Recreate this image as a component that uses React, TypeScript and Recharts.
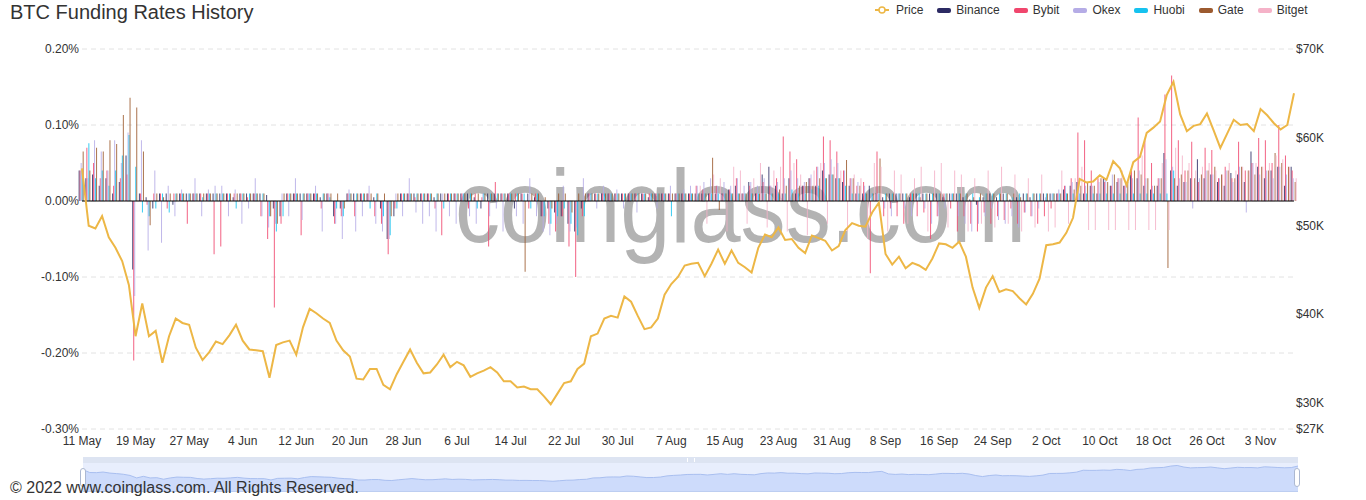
import React from 'react';
import { ComposedChart, AreaChart, Area, Bar, Line, XAxis, YAxis, CartesianGrid, ReferenceLine } from 'recharts';

// Daily BTC price (thousand USD), 11 May 2021 - 8 Nov 2021
const price: number[] = [
  // May 11-31
  56.5, 50.0, 49.7, 51.1, 48.7, 47.5, 46.0, 43.3, 37.5, 41.2, 37.5, 38.1, 34.5, 37.5, 39.5, 39.0, 38.8, 36.2, 34.8, 35.7, 36.9,
  // Jun
  36.6, 37.6, 38.8, 37.0, 36.0, 35.9, 35.8, 32.8, 36.5, 36.8, 37.0, 35.4, 38.5, 40.6, 40.1, 39.5, 39.0, 37.0, 35.9, 35.2,
  32.7, 32.6, 33.8, 33.8, 32.0, 31.5, 33.2, 34.6, 36.0, 34.5,
  // Jul
  33.3, 33.4, 34.3, 35.4, 34.0, 34.6, 34.2, 32.9, 33.3, 33.6, 34.0, 33.4, 32.4, 32.4, 31.7, 31.8, 31.5, 31.5, 30.7, 29.8,
  31.0, 32.2, 32.4, 33.8, 34.4, 37.5, 37.8, 39.5, 39.8, 39.6, 42.0,
  // Aug
  41.4, 39.8, 38.3, 38.5, 39.5, 42.2, 43.4, 44.2, 45.5, 45.7, 45.8, 44.3, 45.7, 47.3, 45.7, 47.2, 45.8, 45.3, 44.7, 47.5,
  49.0, 48.7, 49.8, 48.4, 48.5, 47.5, 46.9, 48.9, 48.6, 48.3, 47.2,
  // Sep
  47.7, 49.5, 50.3, 50.0, 49.9, 51.5, 52.6, 46.8, 45.6, 46.5, 45.2, 45.8, 45.5, 45.0, 46.3, 48.0, 47.9, 47.5, 48.2, 46.5,
  43.0, 40.7, 43.0, 44.3, 42.5, 42.8, 42.6, 41.8, 41.1, 42.3,
  // Oct
  44.0, 47.8, 47.9, 48.1, 49.2, 50.9, 55.3, 54.9, 55.0, 55.7, 55.2, 57.3, 56.5, 54.6, 57.2, 57.8, 60.5, 61.1, 61.8, 64.8,
  66.3, 62.6, 60.7, 61.3, 61.5, 62.7, 60.8, 58.8, 60.4, 62.0, 61.4,
  // Nov 1-8
  61.5, 60.7, 63.2, 62.5, 61.6, 60.9, 61.4, 65.0,
];

// Funding rates (%), one value per day
const binance: number[] = [
  0.04, 0.03, 0.035, 0.02, 0.03, 0.01, 0.025, 0.06, -0.09, 0.01, 0.005, -0.01, 0.01, 0.01, -0.005, 0.01, 0.01, 0.01, 0.01, 0.01, 0.01,
  0.01, 0.01, 0.005, 0.01, 0.01, 0.01, 0.01, 0.008, -0.01, -0.02, 0.01, 0.01, 0.01, 0.01, 0.01, 0.005, 0.01, -0.02, -0.01, 0.01,
  0.01, 0.01, 0.01, 0.005, -0.01, -0.05, -0.02, 0.01, 0.01, 0.01,
  0.01, 0.01, 0.005, 0.01, 0.01, 0.01, 0.01, 0.01, 0.005, -0.01, 0.01, 0.01, 0.01, 0.01, -0.01, 0.01, 0.01, 0.005, -0.02, -0.01,
  -0.015, -0.02, -0.03, -0.04, -0.01, 0.01, 0.01, 0.01, 0.01, 0.01, 0.01,
  0.01, 0.01, 0.01, 0.005, 0.01, 0.01, 0.01, 0.01, 0.01, 0.01, 0.01, 0.01, 0.01, 0.01, 0.01, 0.015, 0.02, 0.01, 0.025, 0.01,
  0.035, 0.045, 0.02, 0.01, 0.03, 0.01, 0.02, 0.03, 0.02, 0.04, 0.035,
  0.03, 0.025, 0.02, 0.01, 0.01, 0.02, 0.01, 0.005, 0.01, 0.01, 0.01, 0.005, 0.01, 0.01, 0.01, 0.01, 0.005, 0.01, 0.01, 0.005,
  0.002, -0.005, 0.005, 0.01, 0.005, 0.01, 0.002, 0.005, 0.01, 0.005,
  0.01, 0.01, 0.01, 0.01, 0.015, 0.02, 0.025, 0.01, 0.02, 0.01, 0.03, 0.02, 0.025, 0.02, 0.035, 0.03, 0.02, 0.015, 0.02, 0.063,
  0.04, 0.02, 0.025, 0.03, 0.055, 0.03, 0.035, 0.025, 0.02, 0.037, 0.035,
  0.025, 0.065, 0.045, 0.03, 0.04, 0.045, 0.02, 0.045,
];

const bybit: number[] = [
  0.04, 0.07, 0.05, 0.03, 0.04, 0.02, 0.03, 0.035, -0.21, 0.01, -0.005, 0.01, 0.01, -0.01, 0.01, 0.01, -0.03, 0.01, 0.01, 0.01, -0.07,
  -0.06, 0.01, 0.01, 0.01, 0.005, 0.01, -0.02, -0.05, -0.14, -0.03, 0.01, 0.01, -0.045, 0.01, 0.01, -0.01, 0.01, -0.03, -0.02, 0.01,
  -0.02, 0.01, 0.01, -0.02, -0.03, -0.07, -0.01, 0.01, 0.01, 0.005,
  0.01, 0.01, -0.01, -0.045, 0.01, 0.01, 0.01, -0.01, 0.01, 0.005, -0.06, 0.025, 0.01, 0.01, 0.01, 0.01, -0.01, 0.01, -0.02, -0.03,
  -0.04, -0.02, -0.06, -0.10, -0.02, 0.01, 0.01, 0.01, 0.01, 0.01, 0.01,
  0.01, 0.01, 0.01, 0.01, 0.01, 0.01, 0.01, 0.01, 0.01, 0.01, 0.02, 0.015, 0.01, 0.02, 0.01, 0.015, 0.03, 0.01, 0.02, 0.01,
  0.025, 0.02, 0.03, 0.085, 0.065, 0.055, 0.02, 0.03, 0.045, 0.085, 0.08,
  0.065, 0.04, 0.03, 0.02, 0.025, -0.095, 0.065, -0.02, -0.01, -0.02, -0.03, 0.01, -0.02, -0.015, -0.05, -0.02, 0.01, -0.01, -0.04, -0.02,
  -0.03, -0.04, -0.015, -0.03, -0.02, -0.025, -0.01, -0.03, -0.015, -0.02,
  -0.03, -0.02, -0.01, 0.01, 0.02, 0.03, 0.09, 0.08, 0.04, 0.03, 0.025, 0.02, 0.03, 0.02, 0.04, 0.11, 0.08, 0.05, 0.03, 0.14,
  0.165, 0.08, 0.04, 0.078, 0.025, 0.07, 0.067, 0.03, 0.045, 0.03, 0.078,
  0.04, 0.05, 0.083, 0.08, 0.05, 0.10, 0.06, 0.04,
];

const okex: number[] = [
  0.05, 0.03, 0.08, 0.065, 0.04, 0.08, 0.05, 0.09, -0.125, 0.08, -0.065, 0.04, -0.055, 0.02, -0.02, 0.015, 0.01, 0.03, -0.02, 0.015, 0.02,
  0.02, -0.02, 0.015, -0.03, -0.01, 0.03, -0.02, -0.035, -0.03, 0.01, -0.02, 0.03, -0.025, 0.01, 0.02, -0.04, 0.01, -0.03, -0.05, 0.015,
  -0.04, -0.02, 0.02, -0.03, -0.04, -0.05, 0.01, -0.02, 0.03, -0.015,
  -0.03, -0.02, -0.04, 0.01, -0.02, -0.03, 0.01, -0.02, -0.03, 0.01, -0.02, -0.01, -0.04, 0.01, -0.02, -0.03, 0.03, -0.02, -0.04, -0.045,
  -0.03, 0.02, -0.04, -0.035, 0.03, 0.01, -0.01, 0.02, 0.01, 0.015, -0.01,
  0.01, -0.015, 0.01, 0.01, -0.01, 0.01, 0.02, 0.01, 0.015, 0.02, 0.02, 0.025, 0.03, 0.02, 0.025, 0.02, 0.03, 0.02, 0.025, 0.02,
  0.03, 0.02, 0.025, 0.03, 0.04, 0.03, 0.025, 0.035, 0.045, 0.05, 0.055,
  0.05, 0.04, 0.03, 0.025, 0.02, 0.01, 0.01, -0.01, -0.02, 0.01, -0.01, -0.02, 0.005, -0.01, -0.03, -0.02, -0.01, 0.01, -0.02, -0.03,
  -0.04, -0.03, -0.02, -0.01, -0.025, -0.03, -0.02, -0.035, -0.015, -0.02,
  -0.01, 0.005, 0.01, 0.015, 0.02, 0.025, 0.03, 0.02, 0.02, 0.025, 0.03, 0.035, 0.03, 0.025, 0.03, 0.04, 0.03, 0.02, 0.03, 0.055,
  0.045, 0.03, 0.025, -0.01, 0.03, 0.04, 0.035, 0.03, 0.04, 0.025, 0.045,
  -0.015, 0.05, 0.035, 0.04, 0.03, 0.045, 0.035, 0.03,
];

// Huobi stops reporting after 19 Oct
const huobi: number[] = [
  0.04, 0.076, 0.03, 0.04, 0.02, 0.04, 0.06, 0.087, 0.045, -0.015, -0.02, -0.01, 0.01, -0.015, 0.01, 0.01, 0.01, 0.01, 0.005, 0.01, 0.01,
  0.01, 0.01, -0.01, 0.01, 0.01, 0.01, 0.01, -0.02, -0.04, -0.02, 0.01, 0.01, 0.01, 0.01, 0.01, 0.01, 0.005, -0.01, -0.02, 0.01,
  0.01, 0.01, -0.01, 0.01, -0.02, -0.045, -0.01, 0.01, 0.01, 0.01,
  0.01, 0.01, 0.01, -0.01, 0.01, 0.01, 0.01, 0.01, -0.01, 0.01, 0.01, 0.01, 0.01, 0.01, 0.01, 0.01, -0.01, 0.01, -0.02, -0.03,
  -0.02, -0.01, -0.03, -0.045, -0.02, 0.01, 0.01, 0.01, 0.01, 0.01, 0.01,
  0.01, 0.01, 0.01, 0.01, 0.01, 0.01, -0.02, 0.01, 0.01, 0.01, 0.01, 0.01, 0.01, 0.01, 0.01, 0.01, 0.01, 0.01, 0.01, 0.01,
  0.01, 0.01, 0.01, 0.01, 0.015, 0.01, 0.01, 0.015, 0.02, 0.03, 0.035,
  0.03, 0.02, 0.01, 0.01, 0.01, 0.01, 0.01, 0.01, 0.01, 0.01, 0.01, 0.01, 0.01, 0.01, 0.01, 0.01, 0.01, 0.01, 0.01, 0.01,
  0.01, 0.005, 0.01, 0.01, 0.01, 0.01, 0.005, 0.01, 0.01, 0.01,
  0.01, 0.01, 0.01, 0.01, 0.01, 0.01, 0.01, 0.01, 0.01, 0.01, 0.01, 0.01, 0.01, 0.01, 0.01, 0.01, 0.01, 0.01, 0.01, 0.01,
  0.04,
];

const gate: number[] = [
  0.065, 0.04, 0.07, 0.065, 0.08, 0.075, 0.113, 0.136, 0.123, 0.065, -0.032, 0.01, 0.005, 0.01, 0.01, 0.01, 0.01, 0.01, 0.01, 0.01, 0.01,
  0.01, 0.01, 0.01, 0.01, 0.01, 0.01, 0.01, -0.02, -0.03, 0.01, 0.01, 0.01, 0.01, 0.01, 0.01, 0.01, 0.01, 0.01, -0.01, 0.01,
  0.01, 0.01, 0.01, 0.01, 0.01, -0.02, 0.01, 0.01, 0.01, 0.01,
  0.01, 0.01, 0.01, 0.01, 0.01, 0.01, 0.01, 0.01, 0.01, 0.01, 0.01, 0.01, 0.01, 0.01, 0.01, -0.093, 0.01, 0.01, 0.005, -0.01,
  0.01, 0.01, -0.015, 0.01, 0.01, 0.01, 0.01, 0.01, 0.01, 0.01, 0.01,
  0.01, 0.01, 0.01, 0.01, 0.01, 0.01, 0.01, 0.01, 0.01, 0.01, 0.01, 0.01, 0.057, -0.012, 0.01, 0.01, 0.01, 0.01, 0.01, 0.01,
  0.01, 0.01, 0.015, 0.02, 0.01, 0.02, 0.025, 0.02, 0.03, 0.03, 0.035,
  0.03, 0.054, 0.03, 0.02, 0.01, 0.01, 0.056, 0.01, 0.01, 0.01, 0.01, 0.01, 0.005, 0.01, 0.01, 0.01, 0.01, 0.01, 0.01, 0.01,
  0.005, 0.01, 0.01, 0.01, 0.01, 0.01, 0.01, 0.005, 0.01, 0.01,
  0.01, 0.01, 0.01, 0.01, 0.01, 0.015, 0.02, 0.025, 0.02, 0.03, 0.025, 0.035, 0.03, 0.025, 0.04, 0.035, 0.03, 0.02, 0.03, -0.088,
  0.03, 0.035, 0.04, 0.03, 0.035, 0.04, 0.045, 0.035, 0.04, 0.03, 0.045,
  0.04, 0.035, 0.045, 0.04, 0.063, 0.05, 0.045, 0.025,
];

// Bitget is listed from 12 Aug onwards
const BITGET_FROM = 92;
const bitget: number[] = [
  0.02, -0.03, 0.035, 0.03, -0.04, 0.045, 0.04, -0.03, 0.03, 0.05, -0.035, 0.04, 0.045, -0.04, 0.05, 0.035, -0.045, 0.04, 0.05, -0.03,
  0.045,
  0.04, -0.04, 0.035, 0.03, -0.05, 0.05, 0.045, -0.04, 0.04, 0.035, -0.03, 0.03, 0.045, -0.04, 0.04, 0.05, -0.035, 0.04, 0.035, -0.04,
  0.03, -0.03, 0.04, -0.035, 0.045, -0.03, 0.035, -0.04, 0.03, -0.035,
  0.035, -0.04, -0.035, 0.04, -0.03, 0.03, 0.045, -0.038, -0.038, 0.03, -0.038, -0.038, 0.04, -0.038, -0.038, 0.06, -0.038, -0.038, 0.05, -0.038,
  0.07, 0.06, 0.05, 0.04, 0.045, 0.05, 0.04, 0.035, 0.05, 0.04, 0.045,
  0.04, 0.05, 0.045, 0.05, 0.06, 0.055, 0.045, 0.03,
];

// x-axis labels, one every 8 days starting 11 May
const tickLabels = [
  '11 May', '19 May', '27 May', '4 Jun', '12 Jun', '20 Jun', '28 Jun', '6 Jul', '14 Jul', '22 Jul', '30 Jul', '7 Aug',
  '15 Aug', '23 Aug', '31 Aug', '8 Sep', '16 Sep', '24 Sep', '2 Oct', '10 Oct', '18 Oct', '26 Oct', '3 Nov',
];
const rateTicks = [-0.3, -0.2, -0.1, 0, 0.1, 0.2];
const priceTicks = [27, 30, 40, 50, 60, 70];

interface Exchange {
  key: string;
  name: string;
  color: string;
}

const exchanges: Exchange[] = [
  { key: 'binance', name: 'Binance', color: '#2c2a63' },
  { key: 'bybit', name: 'Bybit', color: '#f0466d' },
  { key: 'okex', name: 'Okex', color: '#b5ace6' },
  { key: 'huobi', name: 'Huobi', color: '#16c2ef' },
  { key: 'gate', name: 'Gate', color: '#9c5a2f' },
  { key: 'bitget', name: 'Bitget', color: '#f5b2c8' },
];

const PRICE_COLOR = '#edb746';
const FONT = '"Liberation Sans", Arial, sans-serif';

const data = price.map((p, i) => ({
  i,
  price: p,
  binance: binance[i],
  bybit: bybit[i],
  okex: okex[i],
  huobi: i < huobi.length ? huobi[i] : null,
  gate: gate[i],
  bitget: i >= BITGET_FROM ? bitget[i - BITGET_FROM] : null,
}));

const tickStyle = { fontSize: 12, fill: '#333', fontFamily: FONT };

const Legend: React.FC = () => (
  <div
    style={{
      position: 'absolute',
      left: 875,
      top: 3,
      height: 14,
      display: 'flex',
      alignItems: 'center',
      gap: 14,
      fontSize: 12,
      color: '#333',
      fontFamily: FONT,
    }}
  >
    <div style={{ display: 'flex', alignItems: 'center' }}>
      <svg width={14} height={10} style={{ marginRight: 7 }}>
        <line x1={0} y1={5} x2={14} y2={5} stroke={PRICE_COLOR} strokeWidth={2} />
        <circle cx={7} cy={5} r={3} fill="#fff" stroke={PRICE_COLOR} strokeWidth={1.5} />
      </svg>
      <span>Price</span>
    </div>
    {exchanges.map((ex) => (
      <div key={ex.key} style={{ display: 'flex', alignItems: 'center' }}>
        <div style={{ width: 14, height: 5, borderRadius: 2, background: ex.color, marginRight: 5 }} />
        <span>{ex.name}</span>
      </div>
    ))}
  </div>
);

// the dataZoom strip under the chart
const Slider: React.FC = () => (
  <div style={{ position: 'absolute', left: 83, top: 457, width: 1215, height: 35 }}>
    <div style={{ position: 'absolute', left: 0, top: 0, width: 1215, height: 6, background: '#dde4f2' }}>
      <div style={{ position: 'absolute', left: 604, top: 1, width: 6, height: 4, borderLeft: '1px solid #fff', borderRight: '1px solid #fff' }} />
    </div>
    <div
      style={{
        position: 'absolute',
        left: 0,
        top: 6,
        width: 1215,
        height: 29,
        background: '#e8eefd',
        boxSizing: 'border-box',
        borderBottom: '1px solid #d2dbee',
      }}
    >
      <AreaChart width={1215} height={29} data={data} margin={{ top: 0, right: 0, bottom: 0, left: 0 }}>
        <XAxis dataKey="i" type="number" domain={[0, 181]} hide />
        <YAxis domain={[5, 72]} hide allowDataOverflow />
        <Area
          type="linear"
          dataKey="price"
          stroke="#a9bff0"
          strokeWidth={1}
          fill="#8fb0f7"
          fillOpacity={0.3}
          isAnimationActive={false}
        />
      </AreaChart>
    </div>
    {[-3, 1211].map((x) => (
      <div
        key={x}
        style={{
          position: 'absolute',
          left: x,
          top: 11,
          width: 6,
          height: 19,
          background: '#fff',
          border: '1px solid #acb8d1',
          borderRadius: 3,
          boxSizing: 'border-box',
        }}
      />
    ))}
  </div>
);

const App: React.FC = () => {
  return (
    <div style={{ position: 'absolute', left: 0, top: 0, width: 1366, height: 500, background: '#fff', fontFamily: FONT, overflow: 'hidden' }}>
      {/* watermark sits behind the plot */}
      <div
        style={{
          position: 'absolute',
          left: 455,
          top: 155,
          fontSize: 103,
          lineHeight: '103px',
          color: '#b3b3b3',
          fontFamily: FONT,
          whiteSpace: 'nowrap',
          transform: 'scaleX(0.875)',
          transformOrigin: 'left top',
        }}
      >
        coinglass.com
      </div>

      <div style={{ position: 'absolute', left: 10, top: 2, fontSize: 20, lineHeight: '20px', color: '#333' }}>
        BTC Funding Rates History
      </div>
      <Legend />

      <div style={{ position: 'absolute', left: 0, top: 0 }}>
        <ComposedChart width={1366} height={455} data={data} margin={{ top: 49, right: 12, bottom: 6, left: 22 }}>
          <CartesianGrid yAxisId="left" vertical={false} stroke="#e2e2e2" strokeDasharray="5 4" />
          <XAxis
            dataKey="i"
            type="number"
            domain={[0, 181]}
            ticks={tickLabels.map((_, k) => k * 8)}
            tickFormatter={(v: number) => tickLabels[v / 8]}
            interval={0}
            axisLine={false}
            tickLine={false}
            tickSize={0}
            tickMargin={7}
            height={20}
            tick={tickStyle}
          />
          <YAxis
            yAxisId="left"
            domain={[-0.3, 0.2]}
            ticks={rateTicks}
            tickFormatter={(v: number) => `${v.toFixed(2)}%`}
            axisLine={false}
            tickLine={false}
            tickSize={0}
            tickMargin={3}
            width={60}
            tick={tickStyle}
          />
          <YAxis
            yAxisId="right"
            orientation="right"
            domain={[27, 70]}
            ticks={priceTicks}
            tickFormatter={(v: number) => `$${v}K`}
            axisLine={false}
            tickLine={false}
            tickSize={0}
            tickMargin={2}
            width={60}
            tick={tickStyle}
          />
          {exchanges.map((ex) => (
            <Bar
              key={ex.key}
              yAxisId="left"
              dataKey={ex.key}
              name={ex.name}
              fill={ex.color}
              fillOpacity={0.85}
              barSize={1.5}
              isAnimationActive={false}
            />
          ))}
          <ReferenceLine yAxisId="left" y={0} stroke="#000" strokeWidth={1} />
          <Line
            yAxisId="right"
            type="linear"
            dataKey="price"
            name="Price"
            stroke={PRICE_COLOR}
            strokeWidth={2}
            dot={false}
            isAnimationActive={false}
          />
        </ComposedChart>
      </div>

      <Slider />
      <div style={{ position: 'absolute', left: 10, top: 480, fontSize: 16, lineHeight: '16px', color: '#333', whiteSpace: 'nowrap' }}>
        © 2022 www.coinglass.com. All Rights Reserved.
      </div>
    </div>
  );
};

export default App;
